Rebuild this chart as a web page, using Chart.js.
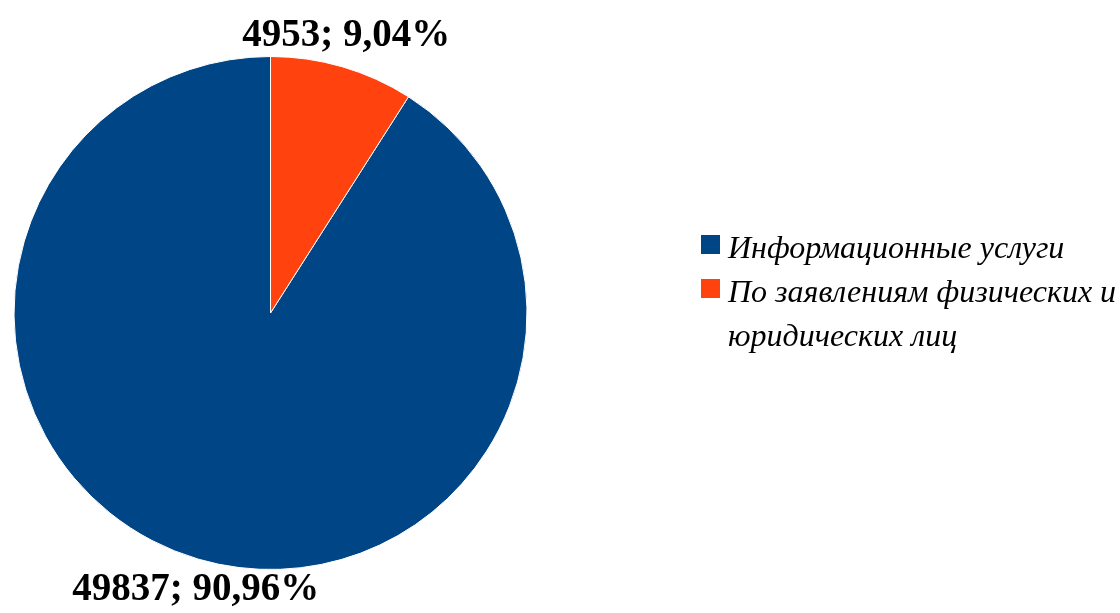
<!DOCTYPE html>
<html>
<head>
<meta charset="utf-8">
<script src="https://cdn.jsdelivr.net/npm/chart.js@4"></script>
<style>
    html, body { margin: 0; padding: 0; background: #fff; }
    #wrap { position: relative; width: 1120px; height: 613px; }
    #legend { position: absolute; left: 701px; top: 225px; width: 419px; white-space: nowrap;
        font-family: "Liberation Serif", "Times New Roman", serif; font-style: italic; font-size: 32px; color: #000; }
    .item { position: relative; padding-left: 27px; line-height: 44px; }
    .box { position: absolute; left: 0; top: 10px; width: 19px; height: 19px; }
</style>
</head>
<body>
<div id="wrap">
    <canvas id="pieChart" width="1120" height="613"></canvas>
    <div id="legend"></div>
</div>
<script>
const categories = ['Информационные услуги', 'По заявлениям физических и юридических лиц'];
const values = [49837, 4953];
const percents = ['90,96%', '9,04%'];
const colors = ['#004586', '#ff420e'];

// подписи данных снаружи круга
const outerLabels = {
    id: 'outerLabels',
    afterDatasetsDraw(chart) {
        const c = chart.ctx;
        const meta = chart.getDatasetMeta(0);
        c.save();
        c.font = 'bold 39px "Liberation Serif", "Times New Roman", serif';
        c.fillStyle = '#000';
        c.textAlign = 'center';
        c.textBaseline = 'middle';
        meta.data.forEach((arc, i) => {
            const p = arc.getProps(['x', 'y', 'startAngle', 'endAngle', 'outerRadius'], true);
            const mid = (p.startAngle + p.endAngle) / 2;
            const d = p.outerRadius + 32;
            const shift = i == 0 ? 6 : -5;
            c.fillText(values[i] + '; ' + percents[i], p.x + Math.cos(mid) * d + shift, p.y + Math.sin(mid) * d);
        });
        c.restore();
    }
};

const total = values.reduce((a, b) => a + b, 0);

new Chart(document.getElementById('pieChart').getContext('2d'), {
    type: 'pie',
    data: {
        labels: categories,
        datasets: [{
            data: values,
            backgroundColor: colors,
            borderColor: '#ffffff',
            borderWidth: 1
        }]
    },
    options: {
        responsive: false,
        animation: false,
        rotation: values[1] / total * 360,
        layout: { padding: { left: 13, right: 592, top: 56, bottom: 43 } },
        plugins: {
            legend: { display: false },
            tooltip: { enabled: false }
        }
    },
    plugins: [outerLabels]
});

// легенда
document.getElementById('legend').innerHTML = categories.map((name, i) => `
    <div class="item"><span class="box" style="background:${colors[i]}"></span>${i == 1 ? 'По заявлениям физических и<br>юридических лиц' : name}</div>
`).join('');
</script>
</body>
</html>
